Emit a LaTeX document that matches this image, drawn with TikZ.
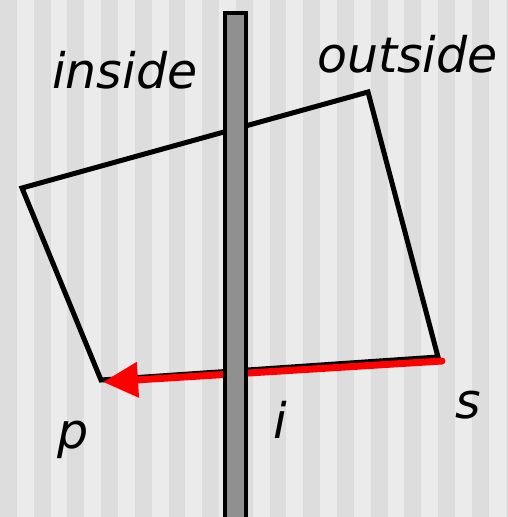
\documentclass[tikz,border=0pt]{standalone}
\usepackage{fontspec}
\setmainfont{DejaVu Sans}
\usetikzlibrary{arrows.meta}
\definecolor{stripedark}{HTML}{DDDDDD}
\definecolor{stripelight}{HTML}{EBEBEB}
\definecolor{wallgray}{HTML}{909090}
\definecolor{arrowred}{HTML}{FF0000}
\tikzset{
  poly/.style={draw=black, line width=5pt},
  wall/.style={draw=black, fill=wallgray, line width=4pt},
  ray/.style={draw=arrowred, line width=7pt, line cap=round, -{Triangle[length=35pt,width=34pt]}},
  lbl/.style={font=\fontsize{49}{50}\selectfont\itshape, inner sep=0pt, anchor=base west},
}
\begin{document}
\begin{tikzpicture}[x=1pt,y=-1pt]
\useasboundingbox (0,0) rectangle (508,517);
\fill[stripelight] (0,0) rectangle (508,517);
\foreach \i in {0,...,15} {
  \fill[stripedark] ({33.7*\i},0) rectangle ({33.7*\i+16.85},517);
}
\coordinate (tl) at (22,188);
\coordinate (tr) at (368,92);
\coordinate (br) at (438,357);
\coordinate (bl) at (101,380);
\coordinate (s) at (442,361);
\coordinate (p) at (103,382);
\draw[poly] (tl) -- (tr) -- (br) -- (bl) -- cycle;
\draw[ray] (s) -- (p);
\draw[wall] (225,13) rectangle (246,530);
\node[lbl] (inside) at (52,88) {inside};
\node[lbl] (outside) at (317,72) {outside};
\node[lbl] (plbl) at (57,448) {p};
\node[lbl] (ilbl) at (273,438) {i};
\node[lbl] (slbl) at (455,418) {s};
\end{tikzpicture}
\end{document}
